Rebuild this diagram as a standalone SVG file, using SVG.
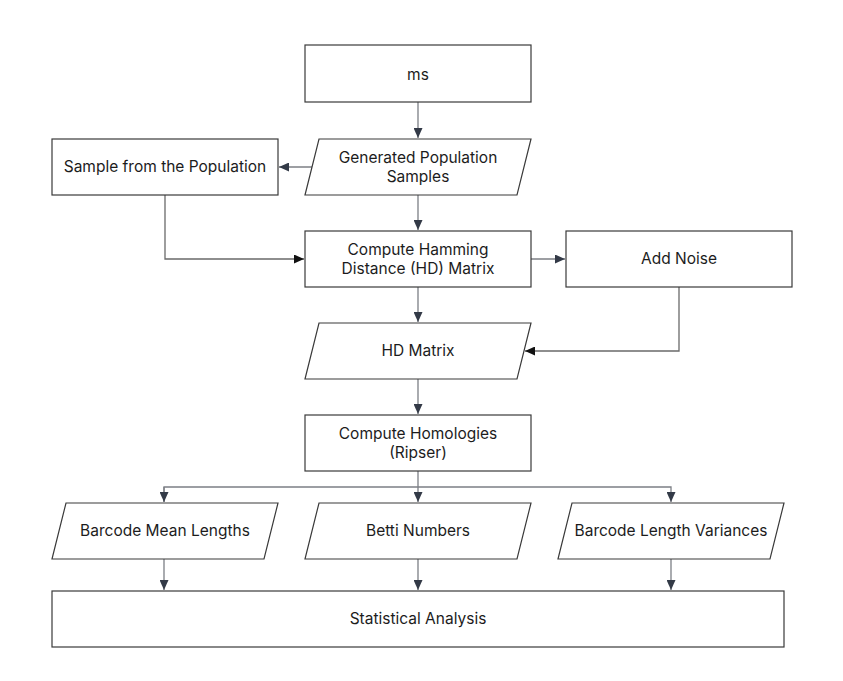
<svg xmlns="http://www.w3.org/2000/svg" width="843" height="681" viewBox="0 0 843 681">
<style>
.n{fill:#fff;stroke:#3a3a3a;stroke-width:1.2}
.t{font-family:Inter,"Liberation Sans",sans-serif;font-size:15.5px;fill:#1c1c1c;text-anchor:middle}
.c{fill:none;stroke:#7c7f85;stroke-width:1.3}
.k{fill:none;stroke:#6a6a6a;stroke-width:1.3}
</style>
<defs>
<marker id="a" markerUnits="userSpaceOnUse" markerWidth="10" markerHeight="9" refX="10" refY="4.5" orient="auto"><path d="M0,0 L10,4.5 L0,9 z" fill="#333a47"/></marker>
<marker id="b" markerUnits="userSpaceOnUse" markerWidth="10" markerHeight="9" refX="10" refY="4.5" orient="auto"><path d="M0,0 L10,4.5 L0,9 z" fill="#111"/></marker>
</defs>
<rect width="843" height="681" fill="#fff"/>
<g id="connectors">
<path class="c" d="M418,102 V138" marker-end="url(#a)"/>
<path class="c" d="M312,167 H279" marker-end="url(#a)"/>
<path class="c" d="M418,195 V230" marker-end="url(#a)"/>
<path class="k" d="M165,195 V259 H304" marker-end="url(#b)"/>
<path class="c" d="M531,259 H565" marker-end="url(#a)"/>
<path class="c" d="M418,287 V322" marker-end="url(#a)"/>
<path class="k" d="M679,287 V351 H525" marker-end="url(#b)"/>
<path class="c" d="M418,379 V414" marker-end="url(#a)"/>
<path class="c" d="M418,471 V502" marker-end="url(#a)"/>
<path class="c" d="M164,502 V487 H671 V502" marker-end="url(#a)"/>
<path class="c" d="M164,487 V502" marker-end="url(#a)"/>
<path class="c" d="M164,559 V590" marker-end="url(#a)"/>
<path class="c" d="M418,559 V590" marker-end="url(#a)"/>
<path class="c" d="M671,559 V590" marker-end="url(#a)"/>
</g>
<g id="ms"><rect class="n" x="305" y="45" width="226" height="57"/><text class="t" x="418" y="80">ms</text></g>
<g id="generated"><polygon class="n" points="319,139 531,139 517,195 305,195"/><text class="t" x="418" y="163">Generated Population</text><text class="t" x="418" y="182">Samples</text></g>
<g id="sample"><rect class="n" x="52" y="139" width="226" height="56"/><text class="t" x="165" y="172">Sample from the Population</text></g>
<g id="computehd"><rect class="n" x="305" y="231" width="226" height="56"/><text class="t" x="418" y="255">Compute Hamming</text><text class="t" x="418" y="274">Distance (HD) Matrix</text></g>
<g id="addnoise"><rect class="n" x="566" y="231" width="226" height="56"/><text class="t" x="679" y="264">Add Noise</text></g>
<g id="hdmatrix"><polygon class="n" points="319,323 531,323 517,379 305,379"/><text class="t" x="418" y="356">HD Matrix</text></g>
<g id="homologies"><rect class="n" x="305" y="415" width="226" height="56"/><text class="t" x="418" y="439">Compute Homologies</text><text class="t" x="418" y="458">(Ripser)</text></g>
<g id="barcodemean"><polygon class="n" points="66,503 278,503 264,559 52,559"/><text class="t" x="165" y="536">Barcode Mean Lengths</text></g>
<g id="betti"><polygon class="n" points="319,503 531,503 517,559 305,559"/><text class="t" x="418" y="536">Betti Numbers</text></g>
<g id="variances"><polygon class="n" points="572,503 784,503 770,559 558,559"/><text class="t" x="671" y="536">Barcode Length Variances</text></g>
<g id="statistical"><rect class="n" x="52" y="591" width="732" height="56"/><text class="t" x="418" y="624">Statistical Analysis</text></g>
</svg>
